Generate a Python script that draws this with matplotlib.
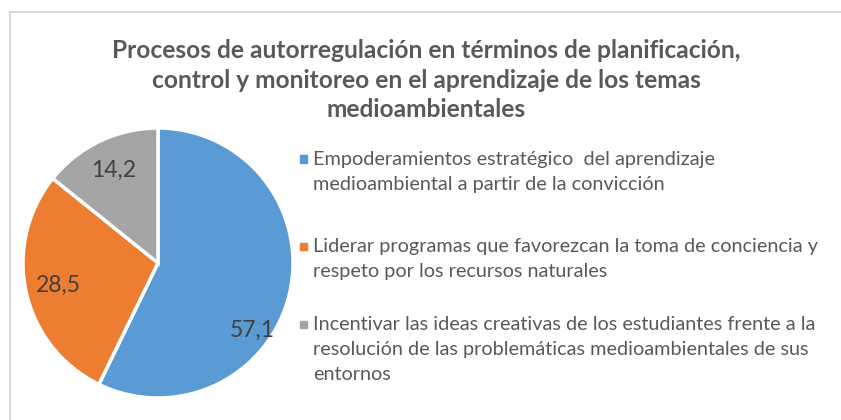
import matplotlib
matplotlib.use("Agg")
import matplotlib.pyplot as plt
from matplotlib.patches import Rectangle
from matplotlib.lines import Line2D

title_lines = ["Procesos de autorregulación en términos de planificación,",
               "control y monitoreo en el aprendizaje de los temas",
               "medioambientales"]
categories = [
    ["Empoderamientos estratégico  del aprendizaje",
     "medioambiental a partir de la convicción"],
    ["Liderar programas que favorezcan la toma de conciencia y",
     "respeto por los recursos naturales"],
    ["Incentivar las ideas creativas de los estudiantes frente a la",
     "resolución de las problemáticas medioambientales de sus",
     "entornos"],
]
values = [57.1, 28.5, 14.2]
value_labels = ["57,1", "28,5", "14,2"]
colors = ["#5B9BD5", "#ED7D31", "#A5A5A5"]

W, H = 841, 420
fig = plt.figure(figsize=(W / 100, H / 100), dpi=100)
fam = ["Lato", "DejaVu Sans"]
renderer = fig.canvas.get_renderer()


def fx(px):
    return px / W


def fy(py):
    return 1 - py / H


def fit(t, target_px):
    for _ in range(4):
        w = t.get_window_extent(renderer).width
        t.set_fontsize(t.get_fontsize() * target_px / w)


# frame lines
fig.add_artist(Line2D([fx(9.5), 1], [fy(11.5), fy(11.5)], color="#D9D9D9", lw=1.5,
                      transform=fig.transFigure))
fig.add_artist(Line2D([fx(9.5), fx(9.5)], [fy(11.5), 0], color="#D9D9D9", lw=1.5,
                      transform=fig.transFigure))

# title
title_base = [58, 88, 117]
tts = []
for line, b in zip(title_lines, title_base):
    tts.append(fig.text(fx(426), fy(b), line, ha="center", va="baseline", fontsize=15,
                        fontweight="bold", color="#595959", family=fam))
fit(tts[0], 628)
for t in tts[1:]:
    t.set_fontsize(tts[0].get_fontsize())

# pie
cx, cy, r = 158, 263, 135
ax = fig.add_axes([fx(cx - r), fy(cy + r), (2 * r) / W, (2 * r) / H])
wedges, texts = ax.pie(values, colors=colors, startangle=90, counterclock=False,
                       radius=1, labels=value_labels, labeldistance=0.76,
                       wedgeprops=dict(edgecolor="white", linewidth=2.5))
for t in texts:
    t.set_ha("center")
    t.set_va("center")
    t.set_fontsize(16.5)
    t.set_color("#404040")
    t.set_family(fam)
texts[0].set_position((0.70, -0.50))
texts[1].set_position(texts[1].get_position() + (0, 0.03))
texts[2].set_position(texts[2].get_position() + (0, 0.03))
ax.set_xlim(-1, 1)
ax.set_ylim(-1, 1)
ax.set_aspect("equal")
ax.axis("off")

# legend (manual)
legend_base = [[165, 190], [252, 277], [330, 355, 380]]
ltexts = []
for lines, col, bases in zip(categories, colors, legend_base):
    for line, b in zip(lines, bases):
        ltexts.append(fig.text(fx(313), fy(b), line, ha="left", va="baseline", fontsize=13.5,
                               color="#595959", family=fam))
    mc = bases[0] - 6
    fig.add_artist(Rectangle((fx(300), fy(mc + 3.5)), fx(7), 7 / H, color=col,
                             transform=fig.transFigure))
fit(ltexts[2], 505)
for t in ltexts:
    t.set_fontsize(ltexts[2].get_fontsize())

fig.savefig("out.png", dpi=100)
